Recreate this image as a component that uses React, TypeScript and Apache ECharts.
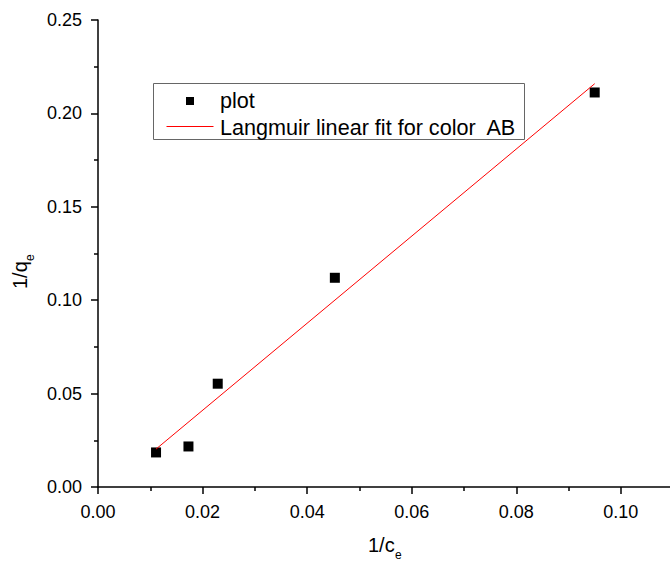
import React, { useEffect, useRef } from 'react';
import * as echarts from 'echarts';

const plotX = [0.0111, 0.0173, 0.0229, 0.0453, 0.095];
const plotY = [0.0185, 0.0217, 0.0553, 0.112, 0.2112];
const fitX = [0.0111, 0.095];
const fitY = [0.0203, 0.2159];
const xMajorTicks = [0, 0.02, 0.04, 0.06, 0.08, 0.1];
const xMinorTicks = [0.01, 0.03, 0.05, 0.07, 0.09];
const legendNames = ['plot', 'Langmuir linear fit for color  AB'];
const xTitle = ['1/c', 'e'];
const yTitle = ['1/q', 'e'];

const FONT = '"Liberation Sans", Arial, Helvetica, sans-serif';
const X_MAX = 0.1094;

export default function App() {
  const ref = useRef<HTMLDivElement>(null);
  useEffect(() => {
    const chart = echarts.init(ref.current!, null, { renderer: 'svg' });
    const lineStyle = { color: '#000', width: 1.5 };
    const gridBox = { left: 98, top: 20, right: 0, bottom: 78, containLabel: false };
    chart.setOption({
      animation: false,
      backgroundColor: '#fff',
      grid: [gridBox, gridBox],
      xAxis: [
        {
          type: 'value',
          gridIndex: 0,
          min: 0,
          max: X_MAX,
          interval: 0.02,
          axisLine: { show: true, lineStyle },
          axisTick: { show: true, inside: false, length: 7, lineStyle, customValues: xMajorTicks },
          splitLine: { show: false },
          axisLabel: {
            color: '#000',
            fontSize: 18,
            fontFamily: FONT,
            margin: 16,
            customValues: xMajorTicks,
            formatter: (v: number) => v.toFixed(2),
          },
        },
        {
          type: 'value',
          gridIndex: 1,
          position: 'bottom',
          min: 0,
          max: X_MAX,
          interval: 0.01,
          axisLine: { show: false },
          axisTick: { show: true, inside: false, length: 4, lineStyle, customValues: xMinorTicks },
          splitLine: { show: false },
          axisLabel: { show: false },
        },
      ],
      yAxis: [
        {
          type: 'value',
          gridIndex: 0,
          min: 0,
          max: 0.25,
          interval: 0.05,
          axisLine: { show: true, lineStyle },
          axisTick: { show: true, inside: false, length: 7, lineStyle },
          minorTick: { show: true, splitNumber: 2, length: 4, lineStyle },
          splitLine: { show: false },
          minorSplitLine: { show: false },
          axisLabel: {
            color: '#000',
            fontSize: 18,
            fontFamily: FONT,
            margin: 16,
            formatter: (v: number) => v.toFixed(2),
          },
        },
        {
          type: 'value',
          gridIndex: 1,
          min: 0,
          max: 0.25,
          show: false,
        },
      ],
      series: [
        {
          name: legendNames[0],
          type: 'scatter',
          symbol: 'rect',
          symbolSize: 10,
          itemStyle: { color: '#000', opacity: 1 },
          data: plotX.map((x, i) => [x, plotY[i]]),
        },
        {
          name: legendNames[1],
          type: 'line',
          symbol: 'none',
          showSymbol: false,
          lineStyle: { color: '#ff0000', width: 1 },
          data: fitX.map((x, i) => [x, fitY[i]]),
        },
      ],
      graphic: [
        {
          type: 'rect',
          shape: { x: 153.5, y: 83.5, width: 371, height: 56 },
          style: { fill: '#fff', stroke: '#666', lineWidth: 1 },
        },
        {
          type: 'rect',
          shape: { x: 186, y: 97, width: 8, height: 8 },
          style: { fill: '#000' },
        },
        {
          type: 'line',
          shape: { x1: 166.5, y1: 126.5, x2: 213.5, y2: 126.5 },
          style: { stroke: '#ff0000', lineWidth: 1 },
        },
        {
          type: 'text',
          x: 220,
          y: 100,
          style: { text: legendNames[0], fontSize: 21.6, fontFamily: FONT, fill: '#000', align: 'left', verticalAlign: 'middle' },
        },
        {
          type: 'text',
          x: 220,
          y: 127,
          style: { text: legendNames[1], fontSize: 21.6, fontFamily: FONT, fill: '#000', align: 'left', verticalAlign: 'middle' },
        },
        {
          type: 'text',
          x: 368,
          y: 545,
          style: { text: xTitle[0], fontSize: 20, fontFamily: FONT, fill: '#000', align: 'left', verticalAlign: 'middle' },
        },
        {
          type: 'text',
          x: 395,
          y: 555,
          style: { text: xTitle[1], fontSize: 12, fontFamily: FONT, fill: '#000', align: 'left', verticalAlign: 'middle' },
        },
        {
          type: 'text',
          x: 20,
          y: 289,
          rotation: Math.PI / 2,
          style: { text: yTitle[0], fontSize: 20, fontFamily: FONT, fill: '#000', align: 'left', verticalAlign: 'middle' },
        },
        {
          type: 'text',
          x: 30,
          y: 261,
          rotation: Math.PI / 2,
          style: { text: yTitle[1], fontSize: 12, fontFamily: FONT, fill: '#000', align: 'left', verticalAlign: 'middle' },
        },
      ],
    });
    return () => chart.dispose();
  }, []);
  return (
    <div
      ref={ref}
      style={{ position: 'fixed', left: 0, top: 0, width: 670, height: 565, overflow: 'hidden' }}
    />
  );
}
